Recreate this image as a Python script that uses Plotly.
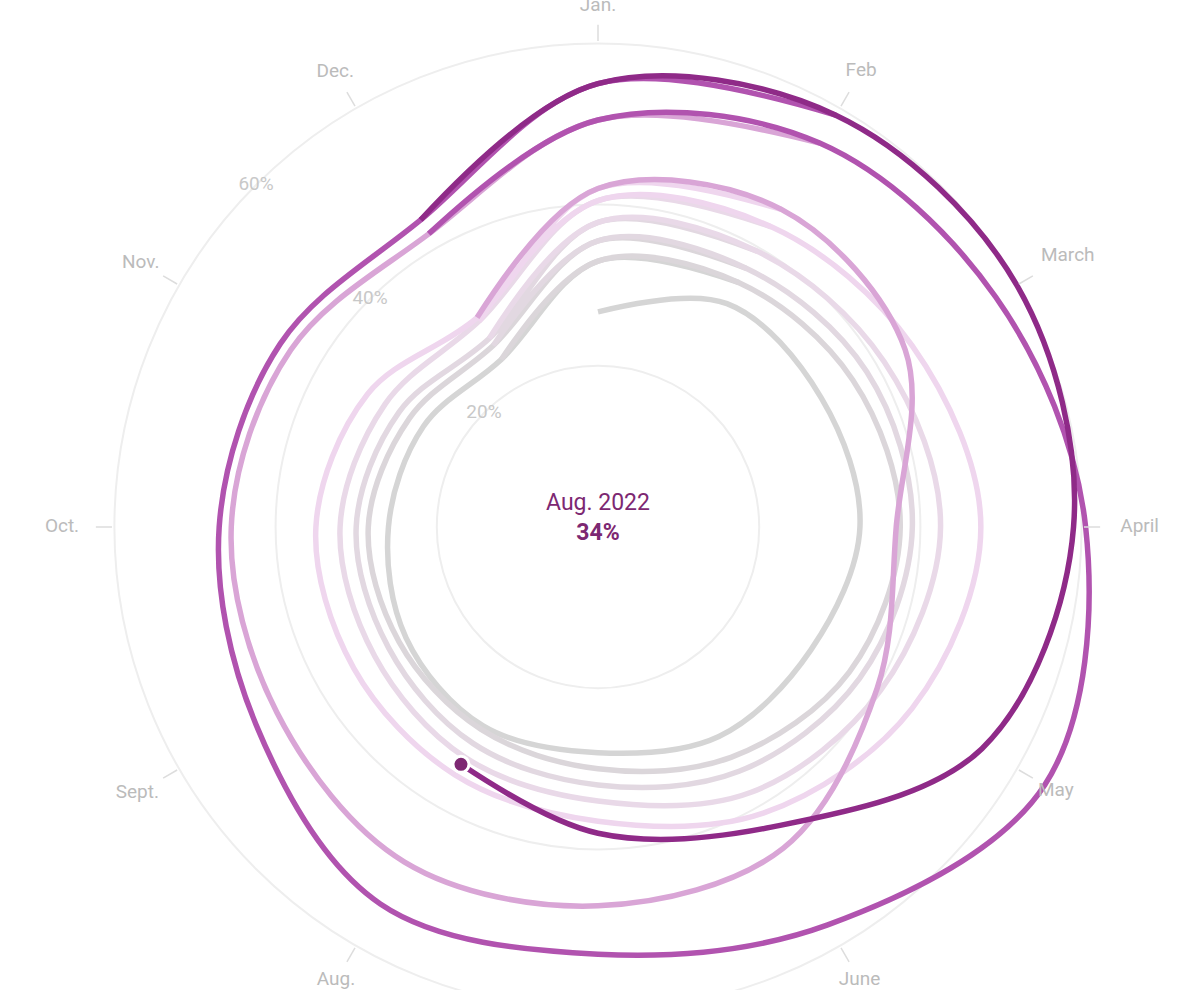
import plotly.graph_objects as go

months = ["Jan.", "Feb", "March", "April", "May", "June",
          "July", "Aug.", "Sept.", "Oct.", "Nov.", "Dec."]
years = [2015, 2016, 2017, 2018, 2019, 2020, 2021, 2022]

# monthly share (%) per year
v2015 = [26.7, 32, 32, 32.5, 30.5, 30, 28, 28.5, 27.5, 26, 25, 24]
v2016 = [33, 35, 36.5, 37.5, 36, 33, 30, 29, 28.5, 28.5, 27, 26]
v2017 = [35.5, 37, 38.5, 39, 37.5, 35, 32, 31, 30, 30, 28.5, 27]
v2018 = [37.8, 39.5, 41, 42.5, 40.5, 38, 34, 33, 32, 32, 30.5, 29.5]
v2019 = [40.5, 43, 45, 47.5, 45, 41, 36.5, 35.5, 35, 35, 33, 30]
v2020 = [42, 45.5, 44, 37, 40, 46, 47, 48, 46, 45.5, 44, 42]
v2021 = [50.5, 55, 57, 60.5, 64, 57, 53, 54, 49, 47, 45.5, 44]
v2022 = [55, 59, 60, 59, 55, 43, 38, 34]
values = [v2015, v2016, v2017, v2018, v2019, v2020, v2021, v2022]

year_colors = ["#d5d5d5", "#dbd6da", "#e2d8e1", "#e9d9e8",
               "#efd6ee", "#d9a5d6", "#b153af", "#8f2a88"]
DARK = "#7d2872"

fig = go.Figure()

theta_m = [i * 30 for i in range(12)]
for k, (yr, vals) in enumerate(zip(years, values)):
    r = list(vals)
    th = theta_m[:len(vals)]
    if k > 0:
        r = [values[k - 1][-1]] + r
        th = [-30] + th
    if k + 1 < len(values):
        nxt = values[k + 1]
        r = r + [nxt[0], nxt[1]]
        th = th + [360, 390]
    fig.add_trace(go.Scatterpolar(
        r=r, theta=th, mode="lines",
        line=dict(color=year_colors[k], width=5.5, shape="spline", smoothing=1),
        cliponaxis=False, hoverinfo="skip", showlegend=False))

# end point
fig.add_trace(go.Scatterpolar(
    r=[v2022[-1]], theta=[theta_m[len(v2022) - 1]], mode="markers",
    marker=dict(color=DARK, size=16, line=dict(color="white", width=3)),
    cliponaxis=False, showlegend=False))

# month tick marks and labels
for i, m in enumerate(months):
    fig.add_trace(go.Scatterpolar(
        r=[60.3, 62.3], theta=[theta_m[i]] * 2, mode="lines",
        line=dict(color="#dddddd", width=1.5), cliponaxis=False,
        hoverinfo="skip", showlegend=False))

label_r = [64.6, 65.3, 67.3, 67.2, 65.6, 64.9, 64.6, 65.0, 66.0, 66.5, 65.5, 65.2]
fig.add_trace(go.Scatterpolar(
    r=label_r, theta=theta_m, mode="text", text=months,
    textfont=dict(color="#bbbbbb", size=19), cliponaxis=False,
    hoverinfo="skip", showlegend=False))

rad_ticks = [20, 40, 60]
fig.add_trace(go.Scatterpolar(
    r=rad_ticks, theta=[315] * 3, mode="text",
    text=[f"{t}%" for t in rad_ticks],
    textfont=dict(color="#c8c8c8", size=19), cliponaxis=False,
    hoverinfo="skip", showlegend=False))

SHIFT = 40  # page is moved up by this much so the circle can run off the top edge
W, H = 1180, 1120
RMAX = 68
px_per = 8.06
cx, cy, R = 598, 527 + SHIFT, RMAX * px_per
fig.update_layout(
    width=W, height=H, margin=dict(l=0, r=0, t=0, b=0),
    paper_bgcolor="white", plot_bgcolor="white",
    font=dict(family="Roboto", color="#bbbbbb"),
    polar=dict(
        domain=dict(x=[(cx - R) / W, (cx + R) / W],
                    y=[(H - cy - R) / H, (H - cy + R) / H]),
        bgcolor="white",
        radialaxis=dict(range=[0, RMAX], tickvals=rad_ticks, showticklabels=False,
                        gridcolor="#eeeeee", gridwidth=1.5, showline=False, ticks=""),
        angularaxis=dict(rotation=90, direction="clockwise", showgrid=False,
                         showline=False, showticklabels=False, ticks=""),
    ),
    annotations=[dict(
        x=cx / W, y=(H - cy + 10) / H, xref="paper", yref="paper",
        text="Aug. 2022<br><b>34%</b>", showarrow=False,
        font=dict(color=DARK, size=23, family="Roboto"), align="center")],
)

fig.write_html(
    "out.html",
    post_script=f"document.body.style.margin='0';"
                f"document.querySelector('.plotly-graph-div').style.marginTop='-{SHIFT}px';")
